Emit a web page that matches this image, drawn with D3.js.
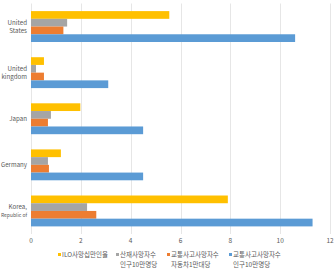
<!DOCTYPE html>
<html>
<head>
<meta charset="utf-8">
<script src="https://cdn.jsdelivr.net/npm/d3@7"></script>
<style>
  body { margin: 0; background: #fff; }
  svg { display: block; font-family: "Noto Sans CJK KR", "Noto Sans", sans-serif; }
  .grid line { stroke: #e6e6e6; stroke-width: 1; }
  .lbl { fill: #595959; font-size: 6.5px; }
</style>
</head>
<body>
<div id="chart"></div>
<script>
//chart data
var categories = ["United States", "United kingdom", "Japan", "Germany", "Korea, Republic of"];
var categoryLines = [["United", "States"], ["United", "kingdom"], ["Japan"], ["Germany"], ["Korea,", "Republic of"]];
var seriesNames = ["ILO사망십만인율", "산재사망자수", "교통사고사망자수", "교통사고사망자수"];
var seriesSub = ["", "인구10만명당", "자동차1만대당", "인구10만명당"];
var seriesColors = ["#FFC000", "#A5A5A5", "#ED7D31", "#5B9BD5"];
var iloRate = [5.55, 0.52, 1.98, 1.2, 7.9];
var industrialDeaths = [1.45, 0.2, 0.8, 0.68, 2.25];
var trafficPerCar = [1.3, 0.52, 0.68, 0.72, 2.62];
var trafficPerPop = [10.6, 3.1, 4.5, 4.5, 11.3];
var xTicks = [0, 2, 4, 6, 8, 10, 12];

window.onload = draw;

function draw(){
    var width = 335, height = 269;
    var series = [iloRate, industrialDeaths, trafficPerCar, trafficPerPop];

    var svg = d3.select("#chart")
        .append("svg")
        .attr("width", width)
        .attr("height", height);

    var x = d3.scaleLinear()
        .domain([0, 12])
        .range([31, 330]);

    var y = d3.scaleBand()
        .domain(categories)
        .range([3.5, 234])
        .paddingInner(0.33)
        .paddingOuter(0.165);

    var inner = d3.scaleBand()
        .domain(d3.range(series.length))
        .range([0, y.bandwidth()]);

    //gridlines
    svg.append("g")
        .attr("class", "grid")
        .selectAll("line")
        .data(xTicks)
        .enter()
        .append("line")
        .attr("x1", function(d){ return Math.round(x(d)) + 0.5; })
        .attr("x2", function(d){ return Math.round(x(d)) + 0.5; })
        .attr("y1", 3.5)
        .attr("y2", 234);

    //bars
    series.forEach(function(vals, s){
        svg.append("g")
            .selectAll("rect")
            .data(vals)
            .enter()
            .append("rect")
            .attr("x", x(0))
            .attr("y", function(d, i){ return y(categories[i]) + inner(s); })
            .attr("width", function(d){ return x(d) - x(0); })
            .attr("height", inner.bandwidth())
            .attr("fill", seriesColors[s]);
    });

    //x tick labels
    svg.append("g")
        .selectAll("text")
        .data(xTicks)
        .enter()
        .append("text")
        .attr("class", "lbl")
        .attr("x", function(d){ return x(d); })
        .attr("y", 243)
        .attr("text-anchor", "middle")
        .text(function(d){ return d; });

    //category labels, one text per line
    var catG = svg.append("g");
    categories.forEach(function(c, i){
        var lines = categoryLines[i];
        var mid = y(c) + y.bandwidth() / 2;
        lines.forEach(function(l, k){
            var t = catG.append("text")
                .attr("class", "lbl")
                .attr("text-anchor", "end")
                .attr("x", 27)
                .attr("y", mid + 2.3 + (k - (lines.length - 1) / 2) * 8)
                .style("font-size", "6.2px")
                .text(l);
            //shrink a label that would run past the left edge
            var w = t.node().getComputedTextLength();
            if (w > 26) t.style("font-size", (6.2 * 26 / w) + "px");
        });
    });

    //legend
    var legendX = [58, 116, 167, 229];
    var legend = svg.append("g")
        .selectAll("g")
        .data(seriesNames)
        .enter()
        .append("g")
        .attr("transform", function(d, i){ return "translate(" + legendX[i] + ",257)"; });

    legend.append("rect")
        .attr("x", 0)
        .attr("y", -4)
        .attr("width", 3)
        .attr("height", 3)
        .attr("fill", function(d, i){ return seriesColors[i]; });

    legend.append("text")
        .attr("class", "lbl")
        .attr("x", 4)
        .attr("y", 0)
        .text(function(d){ return d; });

    legend.append("text")
        .attr("class", "lbl")
        .attr("x", 4)
        .attr("y", 10)
        .text(function(d, i){ return seriesSub[i]; });
}
</script>
</body>
</html>
